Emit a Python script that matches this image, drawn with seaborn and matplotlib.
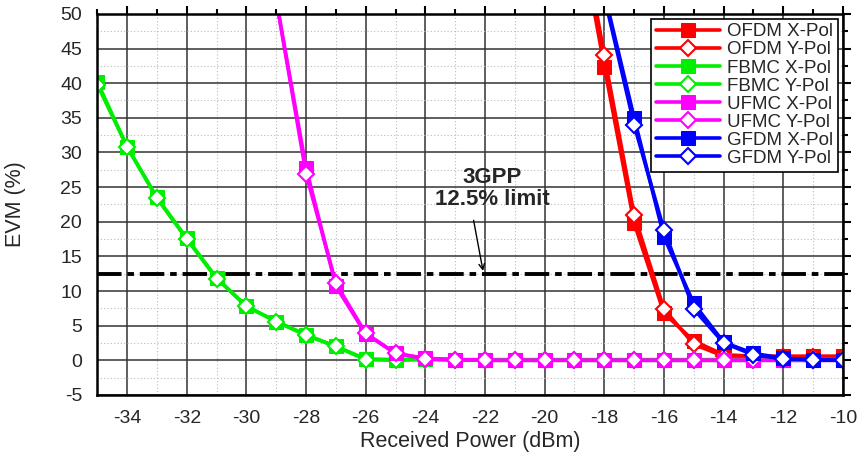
import numpy as np
import pandas as pd
import matplotlib
matplotlib.use("Agg")
import matplotlib.pyplot as plt
from matplotlib.ticker import MultipleLocator
import seaborn as sns

# received power (dBm) for each scheme
fbmc_x = list(range(-35, -9))
fbmc_xpol = [40.2, 30.8, 23.5, 17.6, 11.9, 7.8, 5.6, 3.7, 2.0, 0.2, 0.1, 0.2, 0.1, 0.1,
             0.1, 0.1, 0.1, 0.1, 0.1, 0.1, 0.1, 0.1, 0.1, 0.1, 0.1, 0.1]
fbmc_ypol = [39.8, 30.8, 23.4, 17.5, 11.8, 7.8, 5.6, 3.6, 2.0, 0.1, 0.0, 0.1, 0.0, 0.0,
             0.0, 0.0, 0.0, 0.0, 0.0, 0.0, 0.0, 0.0, 0.0, 0.0, 0.0, 0.0]

ufmc_x = list(range(-29, -9))
ufmc_xpol = [52.0, 27.8, 10.7, 3.8, 1.0, 0.3, 0.1, 0.0, 0.0, 0.0, 0.0, 0.0, 0.0, 0.0,
             0.0, 0.0, 0.0, 0.0, 0.0, 0.0]
ufmc_ypol = [52.0, 26.9, 11.1, 3.9, 1.0, 0.2, 0.1, 0.0, 0.0, 0.0, 0.0, 0.0, 0.0, 0.0,
             0.0, 0.0, 0.0, 0.0, 0.0, 0.0]

ofdm_x = list(range(-19, -9))
ofdm_xpol = [66.0, 42.4, 19.8, 6.8, 2.8, 0.8, 0.6, 0.6, 0.6, 0.6]
ofdm_ypol = [68.0, 44.0, 21.0, 7.4, 2.3, 0.6, 0.5, 0.5, 0.5, 0.5]

gfdm_x = list(range(-18, -9))
gfdm_xpol = [53.0, 35.0, 17.8, 8.2, 2.6, 1.0, 0.3, 0.1, 0.0]
gfdm_ypol = [52.5, 34.0, 18.8, 7.4, 2.5, 0.8, 0.2, 0.1, 0.0]

limit = 12.5

sns.set_style("white")
plt.rcParams['font.family'] = ['Liberation Sans', 'DejaVu Sans']
plt.rcParams['axes.unicode_minus'] = False

fig, ax = plt.subplots(figsize=(8.61, 4.63), dpi=100)
fig.subplots_adjust(left=0.113, right=0.979, bottom=0.147, top=0.970)

series = [
    ("OFDM", "#ff0000", ofdm_x, ofdm_xpol, ofdm_ypol),
    ("FBMC", "#00ee00", fbmc_x, fbmc_xpol, fbmc_ypol),
    ("UFMC", "#ff00ff", ufmc_x, ufmc_xpol, ufmc_ypol),
    ("GFDM", "#0000ff", gfdm_x, gfdm_xpol, gfdm_ypol),
]

for name, col, xs, xp, yp in series:
    sns.lineplot(x=xs, y=xp, ax=ax, color=col, lw=2.6, marker='s', markersize=9.5,
                 markeredgecolor=col, markerfacecolor=col, label=f"{name} X-Pol",
                 estimator=None, sort=False)
    sns.lineplot(x=xs, y=yp, ax=ax, color=col, lw=2.6, marker='D', markersize=8.5,
                 markeredgecolor=col, markerfacecolor='white', markeredgewidth=1.5,
                 label=f"{name} Y-Pol", estimator=None, sort=False)

ax.axhline(limit, color='black', lw=2.8, linestyle=(0, (6.3, 1.5, 1.7, 1.5)), zorder=1.5)
ax.annotate("", xy=(-22.05, limit), xytext=(-22.4, 20.6),
            arrowprops=dict(arrowstyle='->', color='black', lw=1))
ax.text(-21.75, 24.8, "3GPP\n12.5% limit", ha='center', va='center',
        fontsize=16, fontweight='bold', linespacing=1.05)

ax.set_xlim(-35, -10)
ax.set_ylim(-5, 50)
ax.xaxis.set_major_locator(MultipleLocator(2))
ax.xaxis.set_minor_locator(MultipleLocator(1))
ax.yaxis.set_major_locator(MultipleLocator(5))
ax.yaxis.set_minor_locator(MultipleLocator(2.5))
ax.set_xticks(np.arange(-34, -9, 2))

ax.grid(which='major', color='#333333', lw=1.1, zorder=0)
ax.grid(which='minor', color='#bbbbbb', lw=0.8, linestyle=(0, (1, 2)), zorder=0)
ax.set_axisbelow(True)

ax.tick_params(which='both', direction='out', top=True, right=True, color='black',
               labelsize=14)
ax.tick_params(which='major', length=6, width=1.5, pad=5)
ax.tick_params(which='minor', length=3.5, width=1.5)
for s in ax.spines.values():
    s.set_color('black')
    s.set_linewidth(1.8)

ax.set_xlabel("Received Power (dBm)", fontsize=15.5, labelpad=3)
ax.set_ylabel("EVM (%)", fontsize=15.5)
ax.yaxis.set_label_coords(-0.095, 0.5)

leg = ax.legend(loc='upper right', fontsize=13.5, frameon=True, fancybox=False,
                edgecolor='black', framealpha=1, handlelength=3.4, borderaxespad=0.25,
                labelspacing=0.05, borderpad=0.25, handletextpad=0.4)
leg.get_frame().set_linewidth(1.2)

fig.savefig("out.png", dpi=100)
